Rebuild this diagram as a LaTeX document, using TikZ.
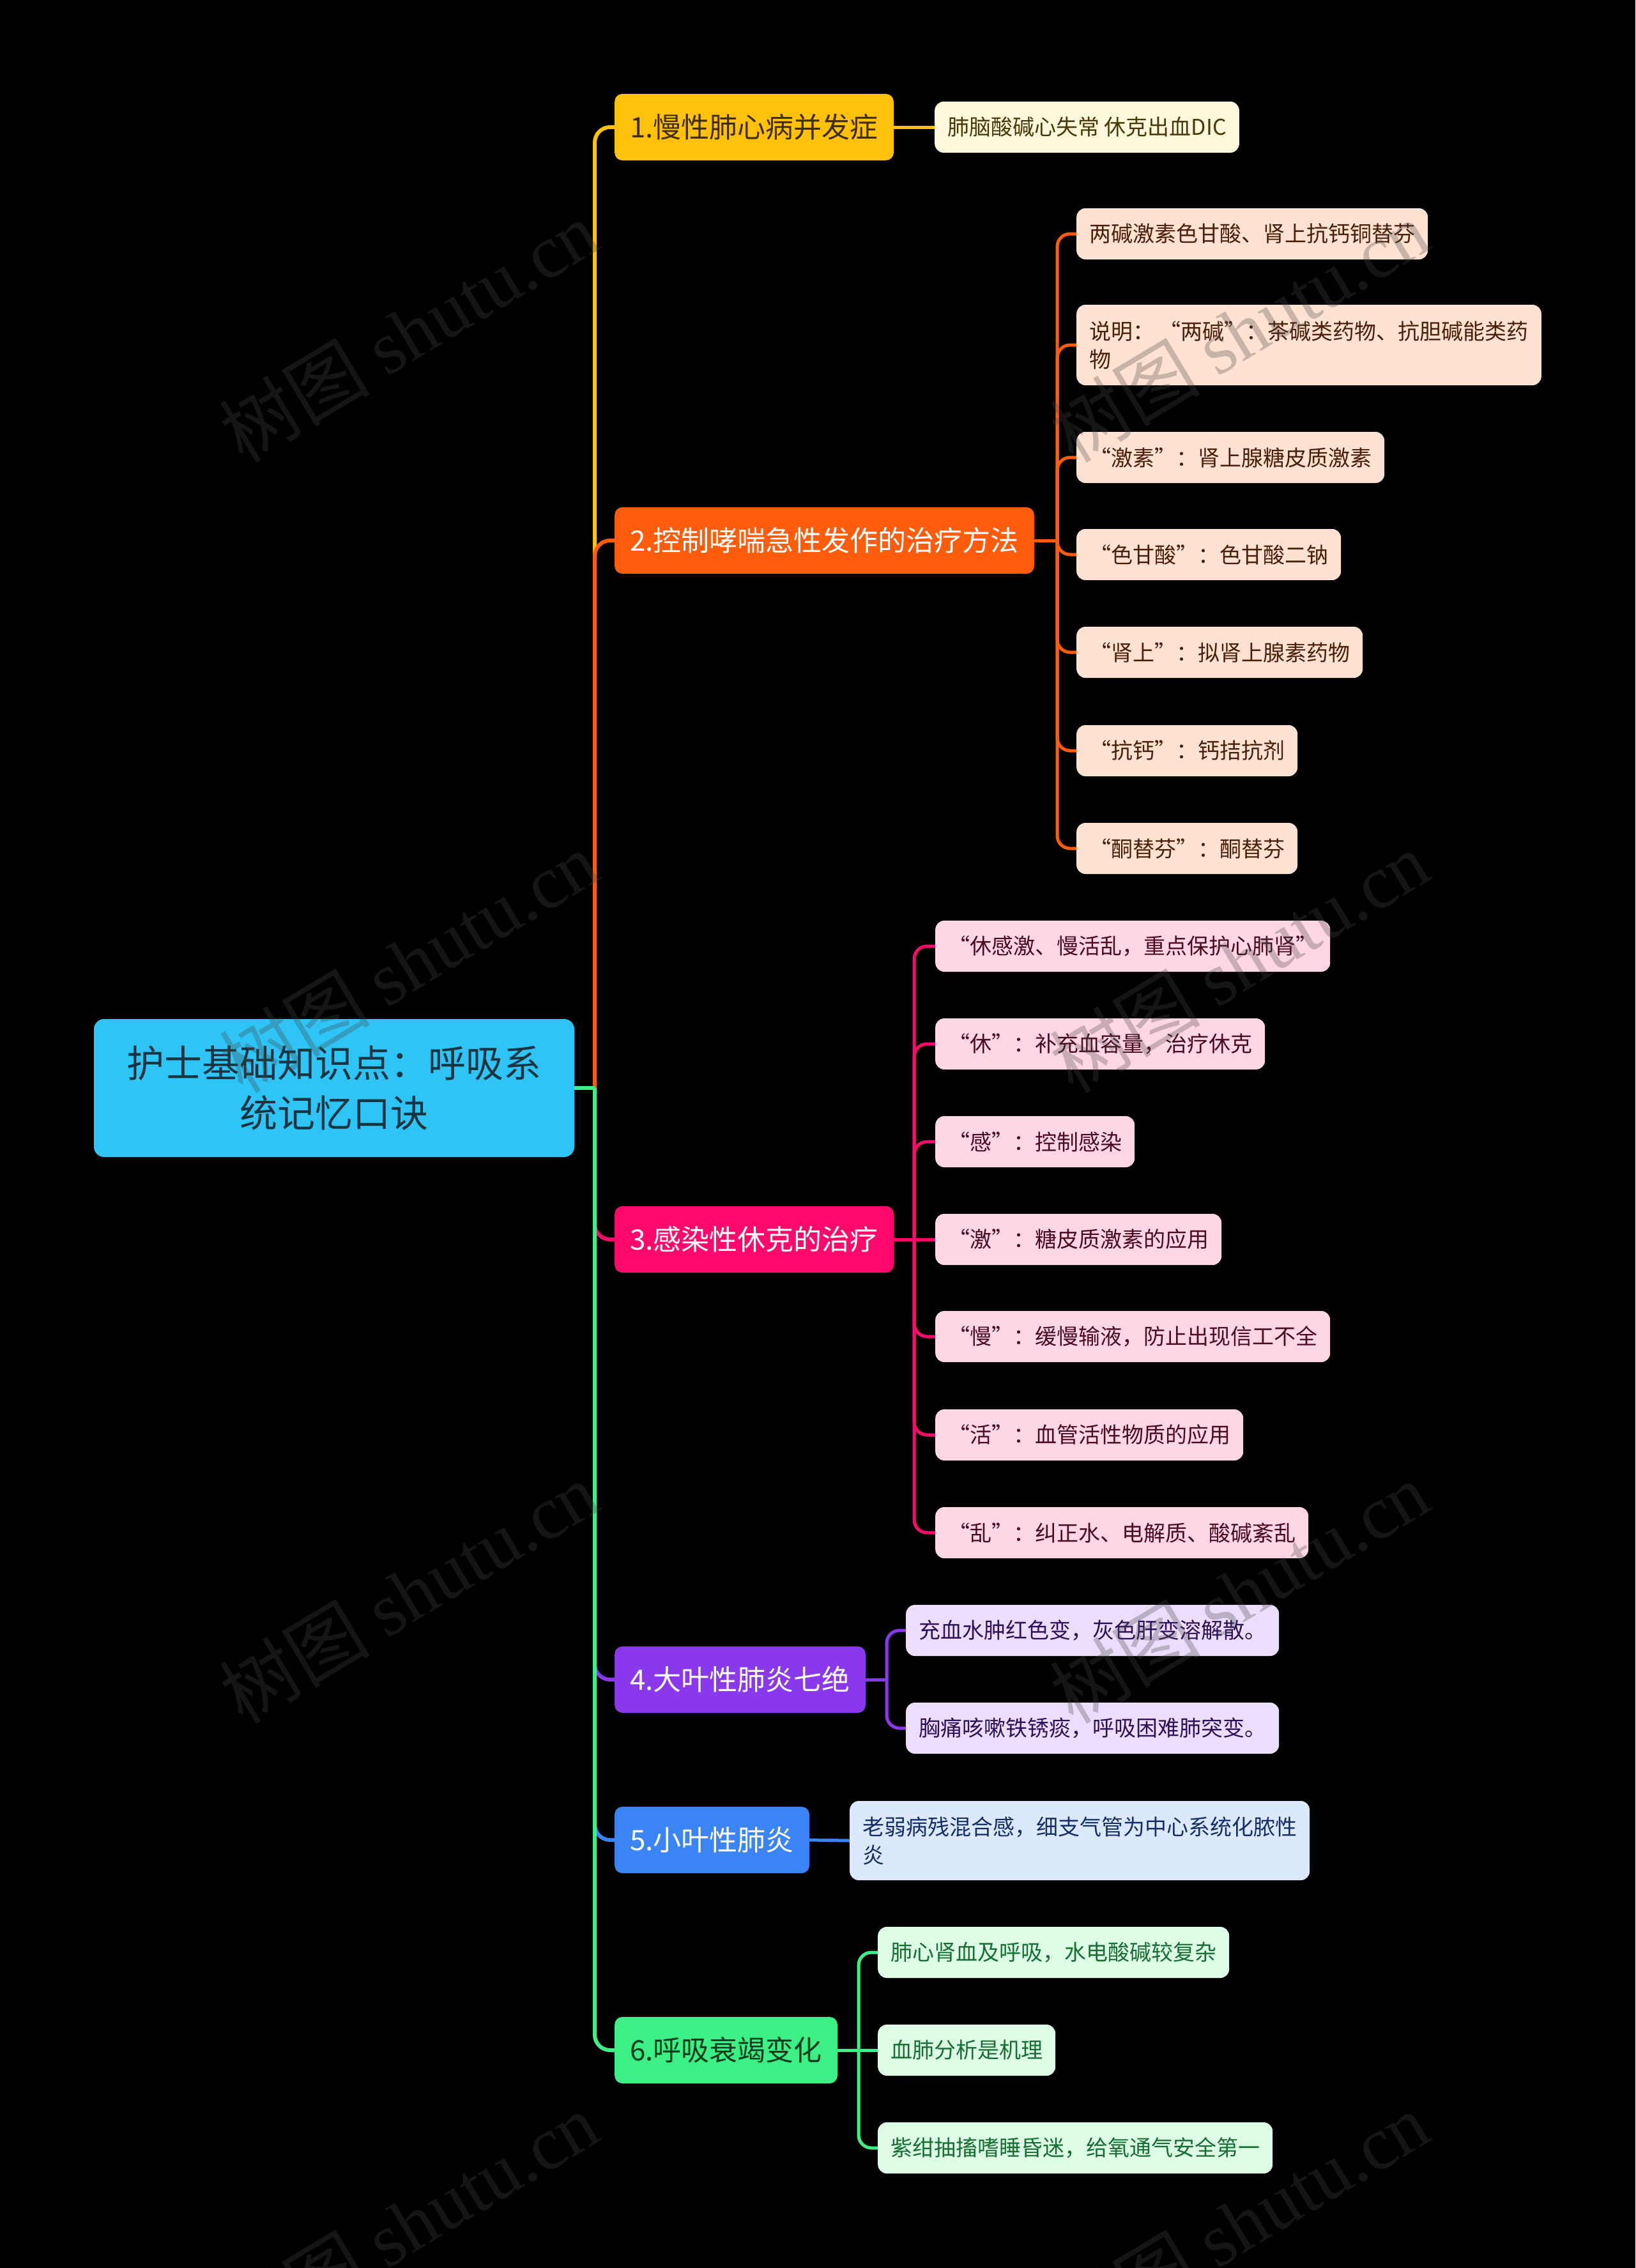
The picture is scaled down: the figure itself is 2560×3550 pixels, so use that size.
\documentclass[tikz,border=0pt]{standalone}
\usepackage{fontspec}
\setmainfont{Noto Sans CJK SC}
\newfontfamily\wmserif{Liberation Serif}
\newfontfamily\wmcjk{Noto Sans CJK SC}
\definecolor{rootfill}{RGB}{46,196,245}
\definecolor{roottext}{RGB}{24,52,64}
\definecolor{cA}{RGB}{255,193,10}
\definecolor{cB}{RGB}{255,92,12}
\definecolor{cC}{RGB}{255,10,108}
\definecolor{cD}{RGB}{138,56,235}
\definecolor{cE}{RGB}{59,132,246}
\definecolor{cF}{RGB}{61,240,133}
\definecolor{tA}{RGB}{62,46,0}
\definecolor{tF}{RGB}{10,60,28}
\definecolor{lA}{RGB}{255,248,220}
\definecolor{lB}{RGB}{255,226,210}
\definecolor{lC}{RGB}{255,214,230}
\definecolor{lD}{RGB}{235,222,252}
\definecolor{lE}{RGB}{220,233,252}
\definecolor{lF}{RGB}{220,252,230}
\definecolor{ltA}{RGB}{72,56,8}
\definecolor{ltB}{RGB}{74,30,8}
\definecolor{ltC}{RGB}{74,10,34}
\definecolor{ltD}{RGB}{46,15,90}
\definecolor{ltE}{RGB}{20,46,104}
\definecolor{ltF}{RGB}{22,110,50}
\definecolor{wmgray}{RGB}{72,72,72}
\tikzset{
  rootbox/.style={rounded corners=16pt, fill=rootfill, text=roottext, minimum width=752pt, minimum height=216pt, inner sep=0pt, align=center, font=\fontsize{59pt}{78pt}\selectfont},
  mainbox/.style={rounded corners=12pt, minimum height=104pt, inner xsep=24pt, inner ysep=0pt, anchor=west, font=\fontsize{44pt}{52pt}\selectfont},
  leafbox/.style={rounded corners=14pt, minimum height=80pt, inner xsep=20pt, inner ysep=0pt, anchor=west, align=left, font=\fontsize{34pt}{44pt}\selectfont},
  conn/.style={line width=6pt, rounded corners=24pt},
  lconn/.style={line width=5pt, rounded corners=20pt},
  wmark/.style={text=wmgray, text opacity=0.3, rotate=31, font=\fontsize{118pt}{118pt}\selectfont, inner sep=0pt},
}
\begin{document}
\begin{tikzpicture}[x=1pt,y=-1pt]
\fill[black] (0,0) rectangle (2560,3550);
\useasboundingbox (0,0) rectangle (2560,3550);

% root and main topics
\node[rootbox] (root) at (523,1703) {护士基础知识点：呼吸系\\统记忆口诀};
\node[mainbox, fill=cA, text=tA] (m1) at (962,199) {1.慢性肺心病并发症};
\node[mainbox, fill=cB, text=white] (m2) at (962,846) {2.控制哮喘急性发作的治疗方法};
\node[mainbox, fill=cC, text=white] (m3) at (962,1940) {3.感染性休克的治疗};
\node[mainbox, fill=cD, text=white] (m4) at (962,2629) {4.大叶性肺炎七绝};
\node[mainbox, fill=cE, text=white] (m5) at (962,2880) {5.小叶性肺炎};
\node[mainbox, fill=cF, text=tF] (m6) at (962,3209) {6.呼吸衰竭变化};

% leaves
\node[leafbox, fill=lA, text=ltA] (l1a) at (1463,199) {肺脑酸碱心失常 休克出血DIC};

\node[leafbox, fill=lB, text=ltB] (l2a) at (1685,366) {两碱激素色甘酸、肾上抗钙铜替芬};
\node[leafbox, fill=lB, text=ltB, minimum height=126pt] (l2b) at (1685,540) {说明： “两碱”：茶碱类药物、抗胆碱能类药\\物};
\node[leafbox, fill=lB, text=ltB] (l2c) at (1685,716) {“激素”：肾上腺糖皮质激素};
\node[leafbox, fill=lB, text=ltB] (l2d) at (1685,868) {“色甘酸”：色甘酸二钠};
\node[leafbox, fill=lB, text=ltB] (l2e) at (1685,1021) {“肾上”：拟肾上腺素药物};
\node[leafbox, fill=lB, text=ltB] (l2f) at (1685,1175) {“抗钙”：钙拮抗剂};
\node[leafbox, fill=lB, text=ltB] (l2g) at (1685,1328) {“酮替芬”：酮替芬};

\node[leafbox, fill=lC, text=ltC] (l3a) at (1464,1481) {“休感激、慢活乱，重点保护心肺肾”};
\node[leafbox, fill=lC, text=ltC] (l3b) at (1464,1634) {“休”：补充血容量，治疗休克};
\node[leafbox, fill=lC, text=ltC] (l3c) at (1464,1787) {“感”：控制感染};
\node[leafbox, fill=lC, text=ltC] (l3d) at (1464,1940) {“激”：糖皮质激素的应用};
\node[leafbox, fill=lC, text=ltC] (l3e) at (1464,2092) {“慢”：缓慢输液，防止出现信工不全};
\node[leafbox, fill=lC, text=ltC] (l3f) at (1464,2246) {“活”：血管活性物质的应用};
\node[leafbox, fill=lC, text=ltC] (l3g) at (1464,2399) {“乱”：纠正水、电解质、酸碱紊乱};

\node[leafbox, fill=lD, text=ltD] (l4a) at (1418,2552) {充血水肿红色变，灰色肝变溶解散。};
\node[leafbox, fill=lD, text=ltD] (l4b) at (1418,2705) {胸痛咳嗽铁锈痰，呼吸困难肺突变。};

\node[leafbox, fill=lE, text=ltE, minimum height=124pt] (l5a) at (1330,2881) {老弱病残混合感，细支气管为中心系统化脓性\\炎};

\node[leafbox, fill=lF, text=ltF] (l6a) at (1374,3056) {肺心肾血及呼吸，水电酸碱较复杂};
\node[leafbox, fill=lF, text=ltF] (l6b) at (1374,3209) {血肺分析是机理};
\node[leafbox, fill=lF, text=ltF] (l6c) at (1374,3362) {紫绀抽搐嗜睡昏迷，给氧通气安全第一};

% main connectors
\coordinate (sp) at (931,1703);
\draw[conn, cA] (sp) |- (m1.west);
\draw[conn, cB] (sp) |- (m2.west);
\draw[conn, cC] (sp) |- (m3.west);
\draw[conn, cD] (sp) |- (m4.west);
\draw[conn, cE] (sp) |- (m5.west);
\draw[conn, cF] (sp) |- (m6.west);
\draw[line width=6pt, cF] (root.east) -- (sp);

% leaf connectors
\draw[lconn, cA] (m1.east) -- (l1a.west);

\coordinate (s2) at (1655,846);
\draw[lconn, cB] (m2.east) -- (s2);
\foreach \n in {l2a,l2b,l2c,l2d,l2e,l2f,l2g} \draw[lconn, cB] (s2) |- (\n.west);

\coordinate (s3) at (1431,1940);
\draw[lconn, cC] (m3.east) -- (l3d.west);
\foreach \n in {l3a,l3b,l3c,l3e,l3f,l3g} \draw[lconn, cC] (s3) |- (\n.west);

\coordinate (s4) at (1388,2629);
\draw[lconn, cD] (m4.east) -- (s4);
\foreach \n in {l4a,l4b} \draw[lconn, cD] (s4) |- (\n.west);

\draw[lconn, cE] (m5.east) -- (l5a.west);

\coordinate (s6) at (1344,3209);
\draw[lconn, cF] (m6.east) -- (l6b.west);
\foreach \n in {l6a,l6c} \draw[lconn, cF] (s6) |- (\n.west);

% watermarks
\foreach \wx in {640,1940} {
  \foreach \wy in {518,1505,2492,3479} {
    \node[wmark] at (\wx,\wy) {{\wmcjk 树图} {\wmserif shutu.cn}};
  }
}
\end{tikzpicture}
\end{document}
